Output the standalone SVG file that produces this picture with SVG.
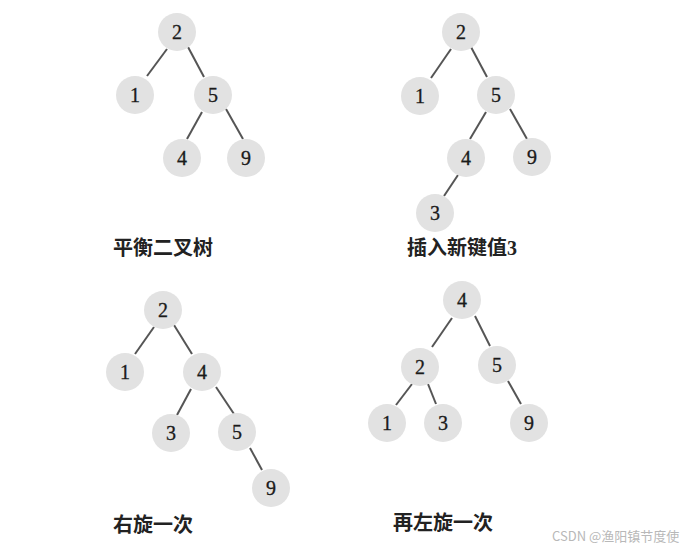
<svg xmlns="http://www.w3.org/2000/svg" width="680" height="550" viewBox="0 0 680 550">
<style>
.n circle{fill:#e2e2e2;stroke:none}
.n text{font-family:"Liberation Serif","DejaVu Serif",serif;font-size:20px;fill:#1a1a1a;text-anchor:middle;dominant-baseline:central;stroke:#1a1a1a;stroke-width:0.3}
.e line{stroke:#555;stroke-width:2}
.cap{font-family:"Noto Sans CJK SC",sans-serif;font-size:20px;font-weight:bold;fill:#222}
.num{font-family:"Liberation Serif",serif;font-weight:bold}
.wm{font-family:"Noto Sans CJK SC",sans-serif;font-size:13px;fill:#b8b8b8}
</style>
<rect width="680" height="550" fill="#fff"/>
<g id="connectors" class="e">
<line x1="167" y1="49" x2="147" y2="76"/>
<line x1="188" y1="47" x2="204" y2="77"/>
<line x1="202" y1="112" x2="187" y2="139"/>
<line x1="226" y1="109" x2="243" y2="139"/>
<line x1="451" y1="49" x2="431" y2="78"/>
<line x1="471" y1="47" x2="487" y2="77"/>
<line x1="486" y1="112" x2="470" y2="139"/>
<line x1="510" y1="109" x2="527" y2="139"/>
<line x1="458" y1="175" x2="444" y2="196"/>
<line x1="154" y1="327" x2="135" y2="354"/>
<line x1="174" y1="325" x2="192" y2="354"/>
<line x1="191" y1="389" x2="177" y2="415"/>
<line x1="216" y1="387" x2="234" y2="414"/>
<line x1="250" y1="448" x2="262" y2="470"/>
<line x1="452" y1="318" x2="432" y2="347"/>
<line x1="475" y1="316" x2="490" y2="346"/>
<line x1="412" y1="384" x2="396" y2="405"/>
<line x1="428" y1="384" x2="436" y2="404"/>
<line x1="508" y1="381" x2="521" y2="404"/>
</g>
<g id="t1-2" class="n"><circle cx="177" cy="32" r="19"/><text x="177" y="32">2</text></g>
<g id="t1-1" class="n"><circle cx="135" cy="95" r="19"/><text x="135" y="95">1</text></g>
<g id="t1-5" class="n"><circle cx="213" cy="95" r="19"/><text x="213" y="95">5</text></g>
<g id="t1-4" class="n"><circle cx="182" cy="158" r="19"/><text x="182" y="158">4</text></g>
<g id="t1-9" class="n"><circle cx="246" cy="158" r="19"/><text x="246" y="158">9</text></g>

<g id="t2-2" class="n"><circle cx="461" cy="32" r="19"/><text x="461" y="32">2</text></g>
<g id="t2-1" class="n"><circle cx="420" cy="96" r="19"/><text x="420" y="96">1</text></g>
<g id="t2-5" class="n"><circle cx="496" cy="95" r="19"/><text x="496" y="95">5</text></g>
<g id="t2-4" class="n"><circle cx="466" cy="158" r="19"/><text x="466" y="158">4</text></g>
<g id="t2-9" class="n"><circle cx="532" cy="157" r="19"/><text x="532" y="157">9</text></g>
<g id="t2-3" class="n"><circle cx="435" cy="213" r="19"/><text x="435" y="213">3</text></g>

<g id="t3-2" class="n"><circle cx="163" cy="310" r="19"/><text x="163" y="310">2</text></g>
<g id="t3-1" class="n"><circle cx="125" cy="372" r="19"/><text x="125" y="372">1</text></g>
<g id="t3-4" class="n"><circle cx="202" cy="372" r="19"/><text x="202" y="372">4</text></g>
<g id="t3-3" class="n"><circle cx="171" cy="433" r="19"/><text x="171" y="433">3</text></g>
<g id="t3-5" class="n"><circle cx="237" cy="432" r="19"/><text x="237" y="432">5</text></g>
<g id="t3-9" class="n"><circle cx="271" cy="488" r="19"/><text x="271" y="488">9</text></g>

<g id="t4-4" class="n"><circle cx="462" cy="300" r="19"/><text x="462" y="300">4</text></g>
<g id="t4-2" class="n"><circle cx="420" cy="367" r="19"/><text x="420" y="367">2</text></g>
<g id="t4-5" class="n"><circle cx="497" cy="365" r="19"/><text x="497" y="365">5</text></g>
<g id="t4-1" class="n"><circle cx="387" cy="423" r="19"/><text x="387" y="423">1</text></g>
<g id="t4-3" class="n"><circle cx="443" cy="423" r="19"/><text x="443" y="423">3</text></g>
<g id="t4-9" class="n"><circle cx="529" cy="423" r="19"/><text x="529" y="423">9</text></g>

<text class="cap" x="113" y="255">平衡二叉树</text>
<text class="cap" x="407" y="255">插入新键值<tspan class="num">3</tspan></text>
<text class="cap" x="113" y="532">右旋一次</text>
<text class="cap" x="393" y="530">再左旋一次</text>
<text class="wm" x="552" y="541">CSDN @渔阳镇节度使</text>
</svg>
